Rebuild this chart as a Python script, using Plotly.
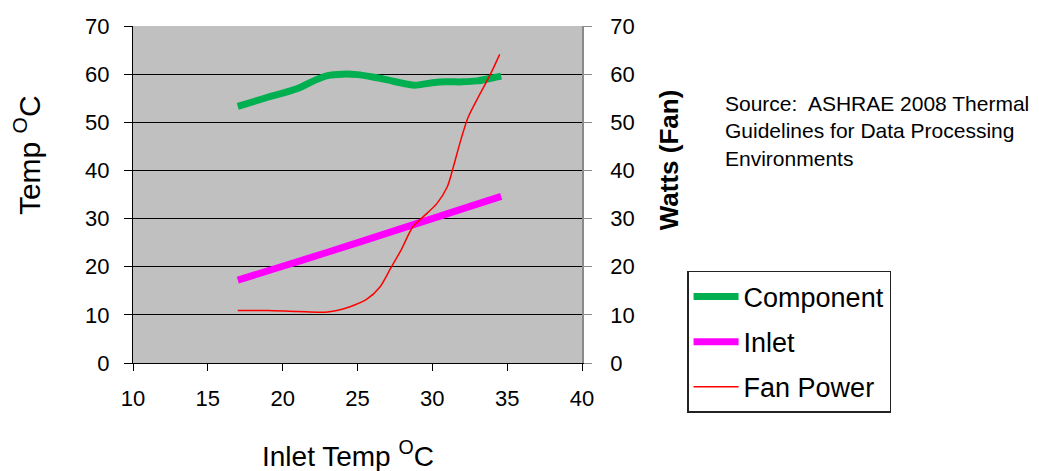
import plotly.graph_objects as go

# Component temperature (left axis)
comp_x = [17, 19, 21, 22, 23, 24, 25, 26, 27, 28, 28.8, 30, 31, 32, 33, 34, 34.6]
comp_y = [53.3, 55.2, 57.0, 58.5, 59.7, 60.0, 59.9, 59.4, 58.8, 58.1, 57.7, 58.2, 58.4, 58.4, 58.6, 59.2, 59.6]

# Inlet temperature (left axis)
inlet_x = [17, 20, 23, 26, 29, 32, 34.6]
inlet_y = [17.2, 20.1, 23.0, 26.0, 29.0, 32.0, 34.6]

# Fan power in watts (right axis)
fan_x = [17, 19, 21, 23, 24.5, 25.6, 26.5, 27.2, 27.9, 28.7, 29.4, 30.3, 31.0, 31.4, 31.9, 32.4, 33.2, 33.9, 34.5]
fan_y = [10.9, 10.9, 10.7, 10.6, 11.7, 13.2, 15.8, 19.6, 23.4, 28.3, 30.4, 33.1, 36.6, 40.7, 46.3, 51.1, 56.0, 60.1, 64.1]

x_ticks = [10, 15, 20, 25, 30, 35, 40]
y_ticks = [0, 10, 20, 30, 40, 50, 60, 70]

FONT = "Arial, Liberation Sans, sans-serif"

fig = go.Figure()
fig.add_trace(go.Scatter(x=comp_x, y=comp_y, name="Component", mode="lines",
                         line=dict(color="#00B050", width=7, shape="spline", smoothing=1.0),
                         legendgroup="a"))
fig.add_trace(go.Scatter(x=inlet_x, y=inlet_y, name="Inlet", mode="lines",
                         line=dict(color="#FF00FF", width=7, shape="spline", smoothing=1.0),
                         legendgroup="b"))
fig.add_trace(go.Scatter(x=fan_x, y=fan_y, name="Fan Power", mode="lines", yaxis="y2",
                         line=dict(color="#FF0000", width=1.5, shape="spline", smoothing=0.8),
                         legendgroup="c"))

fig.update_layout(
    width=1031, height=463,
    margin=dict(l=125, r=457, t=18, b=108, autoexpand=False),
    paper_bgcolor="white",
    plot_bgcolor="#C0C0C0",
    font=dict(family=FONT, color="black", size=22),
    showlegend=True,
    legend=dict(x=1.234, y=0.273, xanchor="left", yanchor="top",
                bgcolor="white", bordercolor="#222", borderwidth=1.5,
                font=dict(size=27, family=FONT, color="black"),
                tracegroupgap=7, traceorder="grouped", itemwidth=45),
    xaxis=dict(range=[10, 40], tickvals=x_ticks, showgrid=False, zeroline=False,
               showline=True, linecolor="black", linewidth=1.2,
               ticks="outside", ticklen=7, tickcolor="black",
               ticklabelstandoff=8, tickfont=dict(size=22)),
    yaxis=dict(range=[0, 70], tickvals=y_ticks, showgrid=True, gridcolor="black", gridwidth=1.2,
               zeroline=False, showline=True, linecolor="black", linewidth=1.2,
               ticks="outside", ticklen=8, tickcolor="black", ticklabelstandoff=10,
               tickfont=dict(size=22)),
    yaxis2=dict(range=[0, 70], tickvals=y_ticks, overlaying="y", side="right",
                showgrid=False, zeroline=False, showline=True, linecolor="#8a8a8a", linewidth=1.5,
                ticks="outside", ticklen=8, tickcolor="#8a8a8a", ticklabelstandoff=14,
                tickfont=dict(size=22)),
    annotations=[
        dict(text="Inlet Temp <sup>O</sup>C", xref="paper", yref="paper",
             x=0.479, y=-0.27, xanchor="center", yanchor="middle", showarrow=False,
             font=dict(size=28, family=FONT)),
        dict(text="Temp <sup>O</sup>C", xref="paper", yref="paper", textangle=-90,
             x=-0.236, y=0.617, xanchor="center", yanchor="middle", showarrow=False,
             font=dict(size=30, family=FONT)),
        dict(text="<b>Watts (Fan)</b>", xref="paper", yref="paper", textangle=-90,
             x=1.194, y=0.602, xanchor="center", yanchor="middle", showarrow=False,
             font=dict(size=26, family=FONT)),
        dict(text="Source:  ASHRAE 2008 Thermal<br>Guidelines for Data Processing<br>Environments",
             xref="paper", yref="paper", x=1.314, y=0.81, xanchor="left", yanchor="top",
             align="left", showarrow=False, font=dict(size=21, family=FONT)),
    ],
)

fig.write_html("out.html")
